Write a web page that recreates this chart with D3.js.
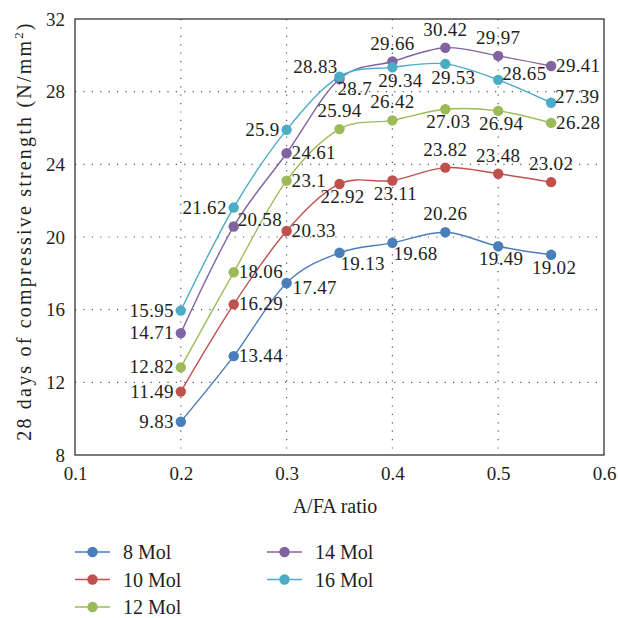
<!DOCTYPE html>
<html>
<head>
<meta charset="utf-8">
<script src="https://cdn.jsdelivr.net/npm/d3@7"></script>
<style>
  body { margin: 0; background: #fff; }
  svg text { font-family: "Liberation Serif", "DejaVu Serif", serif; fill: #231f20; }
</style>
</head>
<body>
<script>
"use strict";

let width = 618;
let height = 618;

// data
let ratios = [0.2, 0.25, 0.3, 0.35, 0.4, 0.45, 0.5, 0.55];
let mol8 = [9.83, 13.44, 17.47, 19.13, 19.68, 20.26, 19.49, 19.02];
let mol10 = [11.49, 16.29, 20.33, 22.92, 23.11, 23.82, 23.48, 23.02];
let mol12 = [12.82, 18.06, 23.1, 25.94, 26.42, 27.03, 26.94, 26.28];
let mol14 = [14.71, 20.58, 24.61, 28.7, 29.66, 30.42, 29.97, 29.41];
let mol16 = [15.95, 21.62, 25.9, 28.83, 29.34, 29.53, 28.65, 27.39];
let seriesNames = ["8 Mol", "10 Mol", "12 Mol", "14 Mol", "16 Mol"];
let xTicks = [0.1, 0.2, 0.3, 0.4, 0.5, 0.6];
let yTicks = [8, 12, 16, 20, 24, 28, 32];

let colors = ["#4a7ebb", "#c0504d", "#9bbb59", "#8064a2", "#4bacc6"];

// where each data label sits relative to its point
let placements = [
  ["l", "r", "r2", "rb", "rb", "a", "b", "b"],
  ["l", "r", "r", "b", "b", "a", "a", "a"],
  ["l", "r", "r", "a", "a", "b", "b", "r"],
  ["l", "ra", "r", "lb", "a", "a", "a", "r"],
  ["l", "l", "l", "la", "bb", "bb", "ra", "ra"]
];

let series = [mol8, mol10, mol12, mol14, mol16].map((vals, i) => ({
  name: seriesNames[i],
  color: colors[i],
  points: vals.map((v, j) => ({ x: ratios[j], y: v, pos: placements[i][j] }))
}));

let svg = d3.select("body").append("svg").attr("width", width).attr("height", height);

let x = d3.scaleLinear().domain([0.1, 0.6]).range([75, 604]);
let y = d3.scaleLinear().domain([8, 32]).range([455, 19]);

// grid
let grid = svg.append("g");
grid.selectAll(".vg")
  .data(xTicks.slice(1, -1))
  .enter()
  .append("line")
  .attr("x1", d => x(d)).attr("x2", d => x(d))
  .attr("y1", y(32)).attr("y2", y(8))
  .attr("stroke", "#555")
  .attr("stroke-width", 1.2)
  .attr("stroke-dasharray", "1.2,7.2");
grid.selectAll(".hg")
  .data(yTicks.slice(1, -1))
  .enter()
  .append("line")
  .attr("x1", x(0.1)).attr("x2", x(0.6))
  .attr("y1", d => y(d)).attr("y2", d => y(d))
  .attr("stroke", "#555")
  .attr("stroke-width", 1.2)
  .attr("stroke-dasharray", "1.2,7.2");

// frame
svg.append("rect")
  .attr("x", x(0.1)).attr("y", y(32))
  .attr("width", x(0.6) - x(0.1)).attr("height", y(8) - y(32))
  .attr("fill", "none")
  .attr("stroke", "#333")
  .attr("stroke-width", 1.3);

// axes
let xAxis = svg.append("g")
  .attr("transform", "translate(0," + y(8) + ")")
  .call(d3.axisBottom(x).tickValues(xTicks).tickSize(0).tickPadding(12).tickFormat(d3.format(".1f")));
let yAxis = svg.append("g")
  .attr("transform", "translate(" + x(0.1) + ",0)")
  .call(d3.axisLeft(y).tickValues(yTicks).tickSize(0).tickPadding(10));
[xAxis, yAxis].forEach(a => {
  a.attr("font-family", null).attr("font-size", null);
  a.select(".domain").remove();
  a.selectAll("text").style("font-size", "19px").attr("fill", "#231f20");
});

// axis titles
svg.append("text")
  .attr("x", 335).attr("y", 513)
  .attr("text-anchor", "middle")
  .style("font-size", "20px")
  .text("A/FA ratio");

let yt = svg.append("text")
  .attr("transform", "translate(31,231) rotate(-90)")
  .attr("text-anchor", "middle")
  .style("font-size", "20px")
  .style("letter-spacing", "2.2px");
yt.append("tspan").text("28 days of compressive strength (N/mm");
yt.append("tspan").attr("dy", -8).style("font-size", "13px").text("2");
yt.append("tspan").attr("dy", 8).text(")");

// lines
let line = d3.line()
  .x(d => x(d.x))
  .y(d => y(d.y))
  .curve(d3.curveCardinal.tension(0));

let g = svg.append("g");
g.selectAll("path")
  .data(series)
  .enter()
  .append("path")
  .attr("fill", "none")
  .attr("stroke", d => d.color)
  .attr("stroke-width", 1.4)
  .attr("d", d => line(d.points));

let dots = svg.append("g");
series.forEach(s => {
  dots.selectAll(null)
    .data(s.points)
    .enter()
    .append("circle")
    .attr("cx", d => x(d.x))
    .attr("cy", d => y(d.y))
    .attr("r", 5.2)
    .attr("fill", s.color);
});

// data labels
let labelOffset = {
  l: [-7, 6, "end"],
  r: [5, 6, "start"],
  r2: [6, 11, "start"],
  rb: [1, 17, "start"],
  ra: [4, 0, "start"],
  la: [-2, -4, "end"],
  lb: [-2, 16, "start"],
  a: [0, -12, "middle"],
  b: [3, 19, "middle"],
  bb: [8, 20, "middle"]
};
let labels = svg.append("g");
series.forEach(s => {
  labels.selectAll(null)
    .data(s.points)
    .enter()
    .append("text")
    .attr("x", d => x(d.x) + labelOffset[d.pos][0])
    .attr("y", d => y(d.y) + labelOffset[d.pos][1])
    .attr("text-anchor", d => labelOffset[d.pos][2])
    .style("font-size", "19px")
    .style("letter-spacing", "0.3px")
    .text(d => d.y);
});

// legend
let legend = svg.append("g");
series.forEach((s, i) => {
  let col = i < 3 ? 0 : 1;
  let row = i < 3 ? i : i - 3;
  let lx = 75 + col * 192;
  let ly = 552 + row * 27.5;
  let item = legend.append("g").attr("transform", "translate(" + lx + "," + ly + ")");
  item.append("line").attr("x1", 0).attr("x2", 35).attr("stroke", s.color).attr("stroke-width", 1.4);
  item.append("circle").attr("cx", 17.5).attr("r", 5.2).attr("fill", s.color);
  item.append("text").attr("x", 48).attr("y", 7).style("font-size", "20px").text(s.name);
});
</script>
</body>
</html>
